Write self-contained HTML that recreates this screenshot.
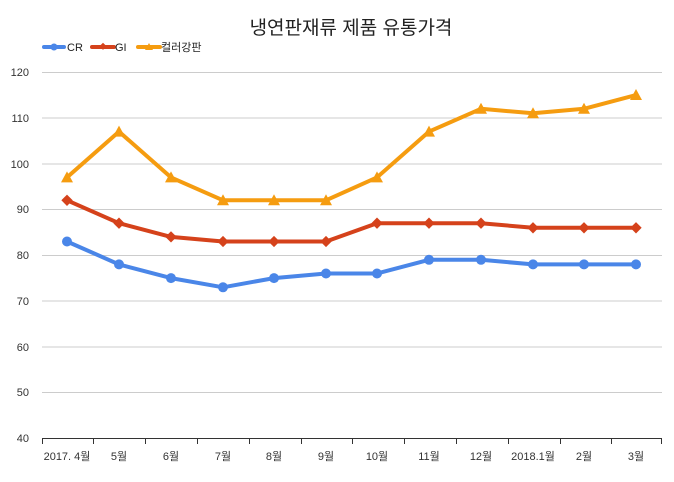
<!DOCTYPE html><html><head><meta charset="utf-8"><style>body{margin:0;background:#fff}svg{display:block}text{font-family:"Liberation Sans","Noto Sans CJK KR",sans-serif}</style></head><body>
<svg width="674" height="482" xmlns="http://www.w3.org/2000/svg">
<text x="351" y="34" font-size="19" text-anchor="middle" fill="#222">냉연판재류 제품 유통가격</text>
<g stroke-width="4" stroke-linecap="round">
<line x1="44" y1="47" x2="64" y2="47" stroke="#4a86e8"/><circle cx="54" cy="47" r="3.5" fill="#4a86e8"/>
<line x1="92" y1="47" x2="114" y2="47" stroke="#d5421b"/><rect x="100" y="44" width="5" height="5" transform="rotate(45 103 47)" fill="#d5421b"/>
<line x1="138" y1="47" x2="160" y2="47" stroke="#f59c10"/><polygon points="149,43 153,50 145,50" fill="#f59c10"/>
</g>
<g font-size="11" fill="#222"><text x="67" y="51">CR</text><text x="115" y="51">GI</text><text x="161" y="51">컬러강판</text></g>
<g stroke="#ccc" stroke-width="1">
<line x1="42" y1="72.5" x2="662" y2="72.5"/><line x1="42" y1="118" x2="662" y2="118"/><line x1="42" y1="164" x2="662" y2="164"/><line x1="42" y1="209.5" x2="662" y2="209.5"/><line x1="42" y1="255.5" x2="662" y2="255.5"/><line x1="42" y1="301" x2="662" y2="301"/><line x1="42" y1="347" x2="662" y2="347"/><line x1="42" y1="392.5" x2="662" y2="392.5"/>
</g>
<line x1="42" y1="438.5" x2="662" y2="438.5" stroke="#333"/>
<g stroke="#333"><line x1="42.5" y1="438" x2="42.5" y2="444"/><line x1="93.5" y1="438" x2="93.5" y2="444"/><line x1="145.5" y1="438" x2="145.5" y2="444"/><line x1="197.5" y1="438" x2="197.5" y2="444"/><line x1="249.5" y1="438" x2="249.5" y2="444"/><line x1="301.5" y1="438" x2="301.5" y2="444"/><line x1="352.5" y1="438" x2="352.5" y2="444"/><line x1="404.5" y1="438" x2="404.5" y2="444"/><line x1="456.5" y1="438" x2="456.5" y2="444"/><line x1="508.5" y1="438" x2="508.5" y2="444"/><line x1="560.5" y1="438" x2="560.5" y2="444"/><line x1="611.5" y1="438" x2="611.5" y2="444"/><line x1="661.5" y1="438" x2="661.5" y2="444"/></g>
<g font-size="11" fill="#333" text-anchor="end"><text x="29" y="76">120</text><text x="29" y="122">110</text><text x="29" y="168">100</text><text x="29" y="213">90</text><text x="29" y="259">80</text><text x="29" y="305">70</text><text x="29" y="351">60</text><text x="29" y="396">50</text><text x="29" y="442">40</text></g>
<g font-size="11" fill="#333" text-anchor="middle"><text x="67" y="460">2017. 4월</text><text x="119" y="460">5월</text><text x="171" y="460">6월</text><text x="223" y="460">7월</text><text x="274" y="460">8월</text><text x="326" y="460">9월</text><text x="377" y="460">10월</text><text x="429" y="460">11월</text><text x="481" y="460">12월</text><text x="533" y="460">2018.1월</text><text x="584" y="460">2월</text><text x="636" y="460">3월</text></g>
<polyline fill="none" stroke="#4a86e8" stroke-width="4" stroke-linejoin="round" points="67,241.5 119,264.4 171,278.1 223,287.3 274,278.1 326,273.5 377,273.5 429,259.8 481,259.8 533,264.4 584,264.4 636,264.4"/>
<g fill="#4a86e8"><circle cx="67" cy="241.5" r="5"/><circle cx="119" cy="264.4" r="5"/><circle cx="171" cy="278.1" r="5"/><circle cx="223" cy="287.3" r="5"/><circle cx="274" cy="278.1" r="5"/><circle cx="326" cy="273.5" r="5"/><circle cx="377" cy="273.5" r="5"/><circle cx="429" cy="259.8" r="5"/><circle cx="481" cy="259.8" r="5"/><circle cx="533" cy="264.4" r="5"/><circle cx="584" cy="264.4" r="5"/><circle cx="636" cy="264.4" r="5"/></g>
<polyline fill="none" stroke="#d5421b" stroke-width="4" stroke-linejoin="round" points="67,200.3 119,223.2 171,236.9 223,241.5 274,241.5 326,241.5 377,223.2 429,223.2 481,223.2 533,227.8 584,227.8 636,227.8"/>
<g fill="#d5421b"><rect x="63" y="196.3" width="8" height="8" transform="rotate(45 67 200.3)"/><rect x="115" y="219.2" width="8" height="8" transform="rotate(45 119 223.2)"/><rect x="167" y="232.9" width="8" height="8" transform="rotate(45 171 236.9)"/><rect x="219" y="237.5" width="8" height="8" transform="rotate(45 223 241.5)"/><rect x="270" y="237.5" width="8" height="8" transform="rotate(45 274 241.5)"/><rect x="322" y="237.5" width="8" height="8" transform="rotate(45 326 241.5)"/><rect x="373" y="219.2" width="8" height="8" transform="rotate(45 377 223.2)"/><rect x="425" y="219.2" width="8" height="8" transform="rotate(45 429 223.2)"/><rect x="477" y="219.2" width="8" height="8" transform="rotate(45 481 223.2)"/><rect x="529" y="223.8" width="8" height="8" transform="rotate(45 533 227.8)"/><rect x="580" y="223.8" width="8" height="8" transform="rotate(45 584 227.8)"/><rect x="632" y="223.8" width="8" height="8" transform="rotate(45 636 227.8)"/></g>
<polyline fill="none" stroke="#f59c10" stroke-width="4" stroke-linejoin="round" points="67,177.4 119,131.6 171,177.4 223,200.3 274,200.3 326,200.3 377,177.4 429,131.6 481,108.8 533,113.3 584,108.8 636,95.0"/>
<g fill="#f59c10"><polygon points="67,171.4 73,182.4 61,182.4"/><polygon points="119,125.6 125,136.6 113,136.6"/><polygon points="171,171.4 177,182.4 165,182.4"/><polygon points="223,194.3 229,205.3 217,205.3"/><polygon points="274,194.3 280,205.3 268,205.3"/><polygon points="326,194.3 332,205.3 320,205.3"/><polygon points="377,171.4 383,182.4 371,182.4"/><polygon points="429,125.6 435,136.6 423,136.6"/><polygon points="481,102.8 487,113.8 475,113.8"/><polygon points="533,107.3 539,118.3 527,118.3"/><polygon points="584,102.8 590,113.8 578,113.8"/><polygon points="636,89 642,100 630,100"/></g>
</svg></body></html>
